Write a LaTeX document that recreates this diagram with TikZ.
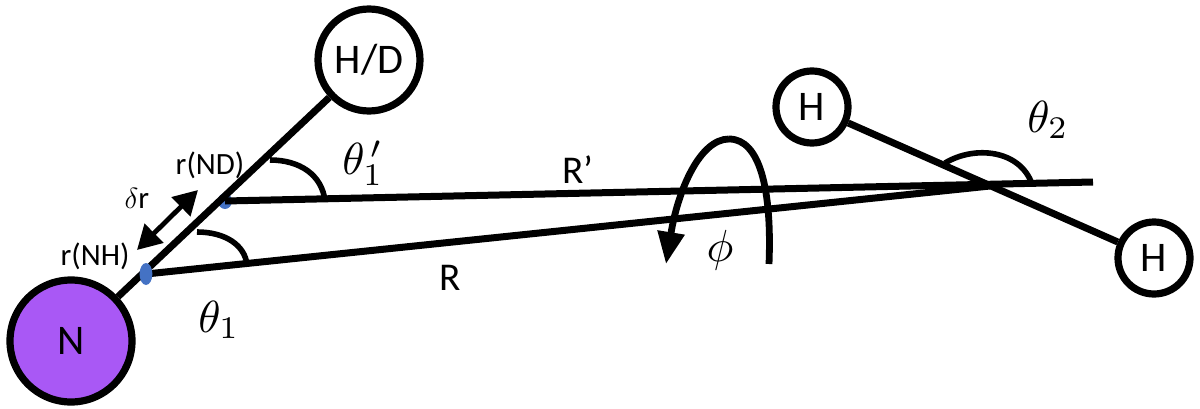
\documentclass[tikz,border=0pt]{standalone}
\usepackage{fontspec}
\setmainfont{Carlito}
\usetikzlibrary{arrows.meta}
\usetikzlibrary{shapes.geometric}
\tikzset{
  atom/.style={circle, draw=black, line width=1.8mm, fill=white, inner sep=0pt, font=\fontsize{30}{30}\selectfont},
  bond/.style={black, line width=1.75mm},
  anglearc/.style={black, line width=1.4mm},
  site/.style={ellipse, fill=sitecolor, inner sep=0pt},
  distlabel/.style={inner sep=0pt, font=\fontsize{22}{22}\selectfont},
  anglelabel/.style={inner sep=0pt, scale=3.2},
}
\definecolor{sitecolor}{HTML}{4472C4}
\definecolor{nitrogen}{HTML}{A958F5}

\begin{document}
\begin{tikzpicture}[x=.25mm,y=-.25mm]
\useasboundingbox (0,0) rectangle (1200,408);

\node[atom, minimum size=30.5mm, fill=nitrogen] (N) at (71,341) {N};
\node[atom, minimum size=25.5mm] (HD) at (369,60) {H/D};
\node[atom, minimum size=18mm] (Ha) at (812,107) {H};
\node[atom, minimum size=18mm] (Hb) at (1154,258) {H};

\node[site, minimum width=3.5mm, minimum height=4mm] (ND) at (225,201) {};
\coordinate (NH) at (146,274);
\coordinate (com) at (990,186);
\coordinate (Rend) at (1093,182);

\draw[bond] (N)--(HD);
\draw[bond] (ND.center)--(Rend);
\draw[bond] (NH)--(com);
\draw[bond] (Ha)--(Hb);
\node[site, minimum width=3.2mm, minimum height=5.5mm] (NHdot) at (NH) {};

% angles
\coordinate (ta) at (197,232);
\coordinate (tb) at (247,265);
\coordinate (tc) at (270,160);
\coordinate (td) at (325,201);
\coordinate (te) at (945,163);
\coordinate (tf) at (1032,184);
\draw[anglearc] (ta) .. controls (225,232) and (245,245) .. (tb);
\draw[anglearc] (tc) .. controls (300,160) and (322,175) .. (td);
\draw[anglearc] (te) .. controls (975,145) and (1020,150) .. (tf);

\coordinate (pa) at (769,264);
\coordinate (pb) at (729,139);
\coordinate (pc) at (666,264);
\draw[anglearc, line width=1.7mm] (pa) .. controls (772,190) and (760,139) .. (pb);
\draw[anglearc, line width=1.7mm, -{Stealth[length=8mm,width=6.5mm,inset=0pt]}] (pb) .. controls (700,139) and (678,190) .. (pc);

\coordinate (da) at (137,250);
\coordinate (db) at (198,190);
\draw[black, line width=1.2mm, {Stealth[length=6mm,width=6.5mm,inset=0pt]}-{Stealth[length=6mm,width=6.5mm,inset=0pt]}] (da)--(db);

\node[distlabel] (lND) at (210,165) {r(ND)};
\node[distlabel] (lNH) at (95,256) {r(NH)};
\node[distlabel] (ldr) at (137,198) {$\delta$r};
\node[distlabel, font=\fontsize{28}{28}\selectfont] (lRp) at (578,170) {R’};
\node[distlabel, font=\fontsize{28}{28}\selectfont] (lR) at (450,278) {R};

\node[anglelabel] (lt) at (219,320) {$\theta_1$};
\node[anglelabel] (ltp) at (363,163) {$\theta_1^{\,\prime}$};
\node[anglelabel] (ltt) at (1048,120) {$\theta_2$};
\node[anglelabel] (lphi) at (720,250) {$\phi$};

\end{tikzpicture}
\end{document}
